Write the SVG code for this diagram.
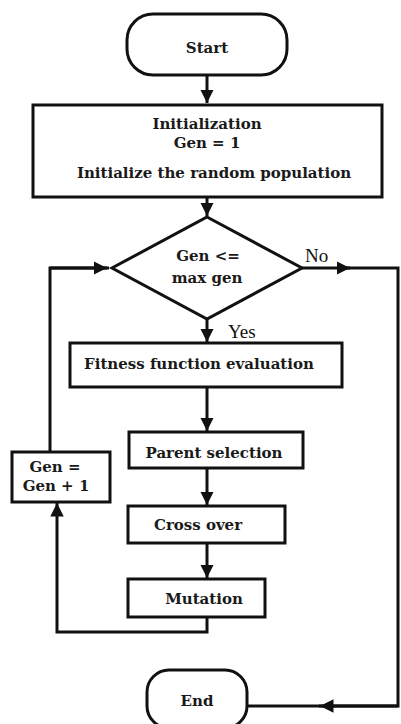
<svg xmlns="http://www.w3.org/2000/svg" width="401" height="724" viewBox="0 0 401 724">
<style>
.n{fill:#fff;stroke:#111;stroke-width:3}
.t{font-family:'DejaVu Serif','Liberation Serif',serif;font-weight:bold;font-size:15px;fill:#1a1a1a;text-anchor:middle}
.l{font-family:'Liberation Serif','Times New Roman',serif;font-size:19px;fill:#111}
.c{fill:none;stroke:#111;stroke-width:3}
</style>
<defs>
<marker id="a" viewBox="0 0 10 10" refX="10" refY="5" markerWidth="4.5" markerHeight="4.5" orient="auto" markerUnits="strokeWidth">
<path d="M0,0L10,5L0,10z" fill="#111"/>
</marker>
</defs>
<rect width="401" height="724" fill="#fff"/>
<g id="connectors">
<path class="c" d="M207,76V103" marker-end="url(#a)"/>
<path class="c" d="M207,197V216" marker-end="url(#a)"/>
<path class="c" d="M207,319V342" marker-end="url(#a)"/>
<path class="c" d="M207,387V431" marker-end="url(#a)"/>
<path class="c" d="M207,468V505" marker-end="url(#a)"/>
<path class="c" d="M207,543V578" marker-end="url(#a)"/>
<path class="c" d="M207,617V632H57V503" marker-end="url(#a)"/>
<path class="c" d="M50,452V268H109"/>
<path class="c" d="M50,268H107" marker-end="url(#a)"/>
<path class="c" d="M302,268H350" marker-end="url(#a)"/>
<path class="c" d="M340,268H398V706H319"/>
<path class="c" d="M398,706H320" marker-end="url(#a)"/>
<path class="c" d="M320,706H248"/>
</g>
<g id="start">
<rect class="n" x="127" y="14" width="160" height="61" rx="26"/>
<text class="t" x="207" y="53" font-size="18">Start</text>
</g>
<g id="init">
<rect class="n" x="33" y="105" width="349" height="92"/>
<text class="t" x="207" y="129">Initialization</text>
<text class="t" x="207" y="148">Gen = 1</text>
<text class="t" x="214" y="178">Initialize the random population</text>
</g>
<g id="decision">
<polygon class="n" points="207,217 302,268 207,319 112,268"/>
<text class="t" x="208" y="261">Gen &lt;=</text>
<text class="t" x="207" y="283">max gen</text>
</g>
<text class="l" x="305" y="262">No</text>
<text class="l" x="228" y="338">Yes</text>
<g id="fitness">
<rect class="n" x="70" y="343" width="272" height="44"/>
<text class="t" x="199" y="369">Fitness function evaluation</text>
</g>
<g id="parent">
<rect class="n" x="129" y="432" width="174" height="36"/>
<text class="t" x="214" y="458">Parent selection</text>
</g>
<g id="cross">
<rect class="n" x="128" y="506" width="157" height="37"/>
<text class="t" x="198" y="530">Cross over</text>
</g>
<g id="mutation">
<rect class="n" x="128" y="579" width="137" height="38"/>
<text class="t" x="204" y="604">Mutation</text>
</g>
<g id="gen">
<rect class="n" x="12" y="452" width="98" height="50"/>
<text class="t" x="55" y="472">Gen =</text>
<text class="t" x="56" y="491">Gen + 1</text>
</g>
<g id="end">
<rect class="n" x="147" y="670" width="100" height="58" rx="22"/>
<text class="t" x="197" y="706">End</text>
</g>
</svg>
